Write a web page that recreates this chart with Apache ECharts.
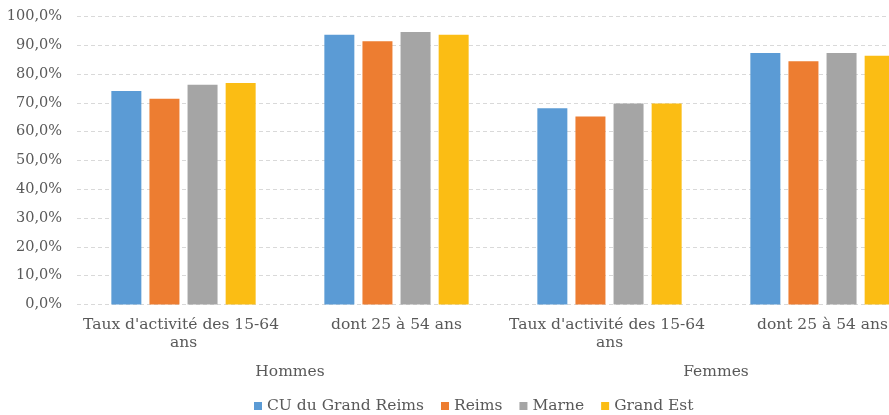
<!DOCTYPE html>
<html><head><meta charset="utf-8">
<script src="https://cdn.jsdelivr.net/npm/echarts@6/dist/echarts.min.js"></script>
<style>html,body{margin:0;padding:0;background:#fff}#c{width:889px;height:415px}</style>
</head><body><div id="c"></div>
<script>
const categories = ["Taux d'activité des 15-64 ans", "dont 25 à 54 ans", "Taux d'activité des 15-64 ans", "dont 25 à 54 ans"];
const groups = ["Hommes", "Femmes"];
const seriesNames = ["CU du Grand Reims", "Reims", "Marne", "Grand Est"];
const cuGrandReims = [74.1, 93.7, 68.1, 87.3];
const reims = [71.4, 91.4, 65.3, 84.5];
const marne = [76.3, 94.6, 69.8, 87.3];
const grandEst = [76.9, 93.7, 69.8, 86.4];
const yTicks = [0, 10, 20, 30, 40, 50, 60, 70, 80, 90, 100];
const colors = ["#5B9BD5", "#ED7D31", "#A5A5A5", "#FBBD14"];

const font = "DejaVu Serif";
const txt = "#595959";
const fs = 15.5;
const chart = echarts.init(document.getElementById('c'));
const values = [cuGrandReims, reims, marne, grandEst];
chart.setOption({
  animation: false,
  grid: { left: 77, width: 852, top: 16.5, bottom: 110.5, containLabel: false, outerBoundsMode: 'none' },
  legend: {
    top: 393, left: 249, icon: 'rect', itemWidth: 8, itemHeight: 8, itemGap: 17,
    textStyle: { fontFamily: font, fontSize: fs, color: txt },
    data: seriesNames
  },
  xAxis: [{
    type: 'category', data: categories, position: 'bottom',
    axisLine: { show: false }, axisTick: { show: false },
    axisLabel: { fontFamily: font, fontSize: fs, color: txt, margin: 11, width: 210, overflow: 'break', lineHeight: 18, interval: 0 }
  }, {
    type: 'category', data: groups, position: 'bottom',
    axisLine: { show: false }, axisTick: { show: false },
    axisLabel: { fontFamily: font, fontSize: fs, color: txt, margin: 59, interval: 0 }
  }],
  yAxis: {
    type: 'value', min: yTicks[0], max: yTicks[yTicks.length - 1], interval: 10,
    axisLine: { show: false }, axisTick: { show: false },
    axisLabel: { fontFamily: font, fontSize: 14.5, color: txt, margin: 15, formatter: v => v.toFixed(1).replace('.', ',') + '%' },
    splitLine: { lineStyle: { color: '#D9D9D9', type: [4, 3], width: 1 } }
  },
  series: seriesNames.map((n, i) => ({
    name: n, type: 'bar', xAxisIndex: 0, data: values[i], barWidth: 30, barGap: '27%',
    itemStyle: { color: colors[i] }
  }))
});
</script></body></html>
